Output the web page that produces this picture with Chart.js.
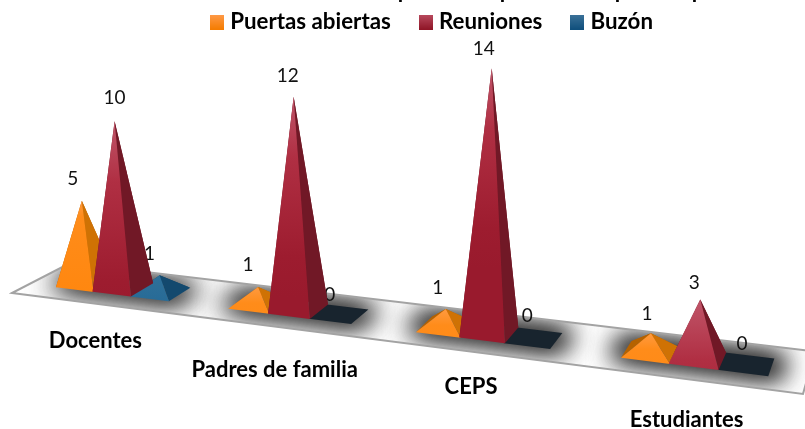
<!DOCTYPE html>
<html><head><meta charset="utf-8">
<style>html,body{margin:0;padding:0;background:#fff}#w{width:805px;height:429px;position:relative}</style>
<script src="https://cdn.jsdelivr.net/npm/chart.js@4"></script>
</head><body><div id="w"><canvas id="c" width="805" height="429"></canvas></div>
<script>
const categories = ['Docentes', 'Padres de familia', 'CEPS', 'Estudiantes'];
const seriesNames = ['Puertas abiertas', 'Reuniones', 'Buzón'];
const puertasAbiertas = [5, 1, 1, 1];
const reuniones = [10, 12, 14, 3];
const buzon = [1, 0, 0, 0];

const FONT = 'Lato, Carlito, sans-serif';
// floor perspective (unit floor square -> screen)
const P = {a:658.5,b:62.5,c:12,d:36,e:-13,f:293,g:-0.165,h:0.0645};
function weight(s,t){return 1+P.g*s+P.h*t;}
function project(s,t){const w=weight(s,t);return {x:(P.a*s+P.b*t+P.c)/w,y:(P.d*s+P.e*t+P.f)/w};}
const T0=0.29,T1=0.71,BARW=0.0565,PITCH=0.2505,S0=0.1235;

const palettes=[
 {stops:[[0,'#ff9a40'],[0.08,'#ff8c1a'],[1,'#ff8000']],side:'#cf7204',left:'#b56200',flat:'#c96e06',legend:['#ff9a48','#f57c00']},
 {stops:[[0,'#c05569'],[0.3,'#b02f43'],[0.8,'#9d1c2f'],[1,'#991a2d']],side:'#711826',left:'#711826',flat:'#711826',legend:['#b84a5e','#8f1526']},
 {stops:[[0,'#2f7099'],[0.3,'#1d6594'],[1,'#145d8c']],side:'#13496e',left:'#13496e',flat:'#18242e',legend:['#3c7299','#0f4f7c']}
];
function legendBox(i){
  const cv=document.createElement('canvas');cv.width=14;cv.height=15;
  const x=cv.getContext('2d');const g=x.createLinearGradient(0,0,0,15);
  g.addColorStop(0,palettes[i].legend[0]);g.addColorStop(1,palettes[i].legend[1]);
  x.fillStyle=g;x.fillRect(0,0,14,15);return cv;
}
function centerS(chart,dsIndex,k){
  const xs=chart.scales.x;
  const p0=xs.getPixelForValue(0),gap=xs.getPixelForValue(1)-p0;
  return S0+(xs.getPixelForValue(k)-p0)/gap*PITCH+(dsIndex-1)*0.055;
}
function baseOf(chart,dsIndex,k){
  const sc=centerS(chart,dsIndex,k);
  const s0=sc-BARW/2,s1=sc+BARW/2;
  return {FL:project(s0,T0),FR:project(s1,T0),BR:project(s1,T1),BL:project(s0,T1),C:project(sc,(T0+T1)/2),w:weight(sc,(T0+T1)/2)};
}
function apexOf(chart,dsIndex,k,v){
  const ys=chart.scales.y,b=baseOf(chart,dsIndex,k);
  const H0=ys.getPixelForValue(0)-ys.getPixelForValue(v);
  const H=H0/Math.pow(b.w,1+0.5*Math.min(1,H0/120));
  return {x:b.C.x+(b.C.x-430)/6000*H,y:b.C.y-H};
}
function poly(ctx,pts,fill){ctx.beginPath();pts.forEach((p,i)=>i?ctx.lineTo(p.x,p.y):ctx.moveTo(p.x,p.y));ctx.closePath();if(fill){ctx.fillStyle=fill;ctx.fill();}}

class PyramidController extends Chart.BarController{
  draw(){
    const chart=this.chart,ctx=chart.ctx,meta=this.getMeta(),d=meta.index,pal=palettes[d];
    meta.data.forEach((el,k)=>{
      const v=this.getParsed(k).y,b=baseOf(chart,d,k);
      if(v===0){poly(ctx,[b.FL,b.FR,b.BR,b.BL],pal.flat);return;}
      const A=apexOf(chart,d,k,v);
      const g=ctx.createLinearGradient(0,A.y,0,A.y+200);
      pal.stops.forEach(s=>g.addColorStop(s[0],s[1]));
      poly(ctx,[b.FL,b.BL,A],pal.left);
      poly(ctx,[b.BL,b.BR,A],pal.left);
      poly(ctx,[b.FR,b.BR,A],pal.side);
      poly(ctx,[b.FL,b.FR,A],g);
    });
  }
}
PyramidController.id='pyramid';
PyramidController.defaults=Chart.BarController.defaults;
PyramidController.overrides=Chart.BarController.overrides;
Chart.register(PyramidController);

const labelShift=[[-9,0,-10],[-10,-6,-9],[-8,-8,-6],[-4,-6,-4]];
const labelShiftTop=[[-22,-23,-21],[-22,-21,-19],[-21,-19,-22],[-19,-17,-20]];

const floorPlugin={
  id:'floor',
  beforeDatasetsDraw(chart){
    const ctx=chart.ctx;
    const plate=[project(0,0),project(1,0),project(1,1),project(0,1)];
    ctx.save();
    poly(ctx,plate,'#ffffff');
    ctx.save();ctx.clip();
    // shadow only: the casting shape itself stays off the canvas
    ctx.shadowColor='rgba(0,0,0,0.85)';ctx.shadowBlur=26;ctx.shadowOffsetX=3000;
    ctx.translate(-3000,0);
    categories.forEach((_,k)=>{
      const s0=centerS(chart,0,k)-BARW/2-0.012,s1=centerS(chart,2,k)+BARW/2+0.012;
      for(let n=0;n<2;n++)poly(ctx,[project(s0,T0-0.02),project(s1,T0-0.02),project(s1,T1+0.06),project(s0,T1+0.06)],'#000');
    });
    ctx.restore();
    poly(ctx,plate);ctx.strokeStyle='#a3a3a3';ctx.lineWidth=2;ctx.stroke();
    // value labels sit under the pyramids
    ctx.fillStyle='#111';ctx.font='19px '+FONT;ctx.textAlign='center';ctx.textBaseline='middle';
    chart.data.datasets.forEach((ds,d)=>ds.data.forEach((v,k)=>{
      const A=apexOf(chart,d,k,v);
      ctx.fillText(String(v),A.x+labelShift[k][d],A.y+labelShiftTop[k][d]);
    }));
    ctx.restore();
  },
  afterDraw(chart){
    const ctx=chart.ctx;
    ctx.save();
    ctx.fillStyle='#000';ctx.textBaseline='middle';ctx.textAlign='center';ctx.font='bold 22px '+FONT;
    const nudge=[[-17,35],[-15,41],[-12,34],[-8,40]];
    categories.forEach((c,k)=>{
      const l=baseOf(chart,0,k).FL,r=baseOf(chart,2,k).FR;
      const cx=(l.x+r.x)/2,f=project((S0+k*PITCH),0);
      ctx.fillText(c,cx+nudge[k][0],f.y+(cx-f.x)*0.128+nudge[k][1]);
    });
    // title: only the descenders of its clipped line reach the picture
    ctx.font='bold 22px '+FONT;ctx.textBaseline='alphabetic';
    [399,501,616,693].forEach(x=>ctx.fillText('p',x+5,-2));
    ctx.restore();
  }
};

new Chart(document.getElementById('c'),{
  type:'pyramid',
  data:{labels:categories,datasets:[
    {label:seriesNames[0],data:puertasAbiertas,order:2,clip:false},
    {label:seriesNames[1],data:reuniones,order:1,clip:false},
    {label:seriesNames[2],data:buzon,order:3,clip:false}
  ]},
  options:{
    responsive:false,animation:false,
    layout:{padding:{left:63,top:-22,bottom:132,right:0}},
    scales:{x:{display:false,offset:true},y:{display:false,min:0,max:15}},
    plugins:{
      tooltip:{enabled:false},
      legend:{position:'top',labels:{
        usePointStyle:true,pointStyleWidth:4,padding:33,color:'#000',
        font:{family:FONT,size:22.3,weight:'bold'},
        generateLabels(){return seriesNames.map((n,i)=>({text:n,fontColor:'#000',pointStyle:legendBox(i),datasetIndex:i,lineWidth:0,strokeStyle:'transparent',fillStyle:'transparent'}));}
      }}
    }
  },
  plugins:[floorPlugin]
});
</script></body></html>
